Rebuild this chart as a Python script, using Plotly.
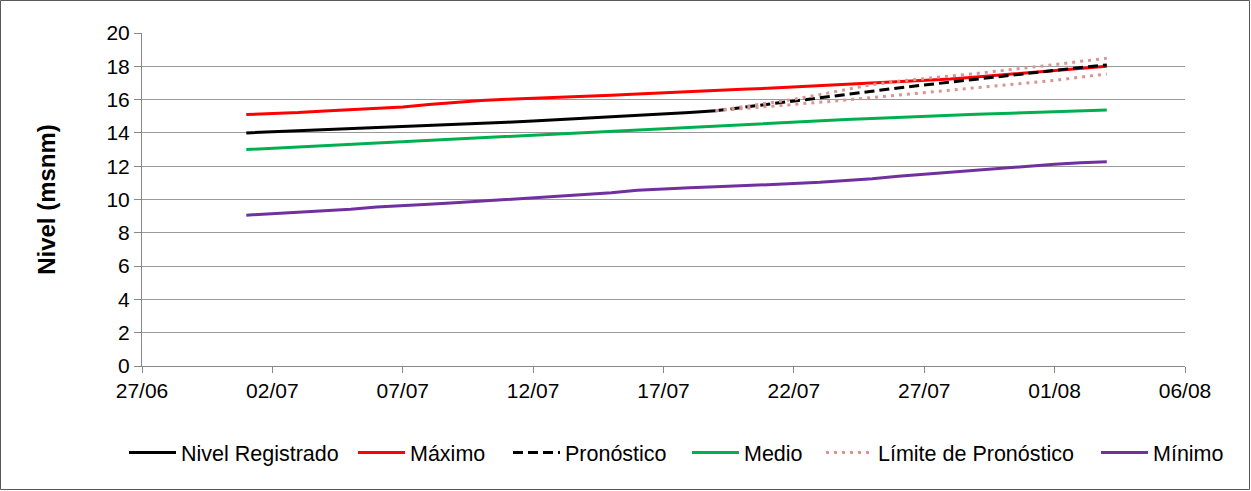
import pandas as pd
import plotly.graph_objects as go

# ---- data ----
fechas = [d.strftime("%Y-%m-%d") for d in pd.date_range("2013-07-01", "2013-08-03", freq="D")]
fechas_registro = fechas[:19]      # 01/07 .. 19/07
fechas_pronostico = fechas[18:]    # 19/07 .. 03/08

nivel_registrado = [14.00, 14.06, 14.12, 14.18, 14.24, 14.30, 14.36, 14.42, 14.49, 14.56,
                    14.64, 14.72, 14.80, 14.88, 14.96, 15.05, 15.13, 15.22, 15.33]

maximo = [15.10, 15.15, 15.22, 15.32, 15.40, 15.46, 15.56, 15.70, 15.84, 15.94,
          16.02, 16.07, 16.13, 16.20, 16.26, 16.34, 16.42, 16.48, 16.55, 16.62,
          16.68, 16.76, 16.84, 16.90, 16.96, 17.04, 17.14, 17.24, 17.36, 17.48,
          17.60, 17.72, 17.86, 18.00]

pronostico = [15.33, 15.52, 15.70, 15.90, 16.10, 16.30, 16.50, 16.70, 16.88, 17.05,
              17.22, 17.40, 17.58, 17.76, 17.93, 18.08]

medio = [13.00, 13.08, 13.16, 13.24, 13.32, 13.40, 13.48, 13.56, 13.64, 13.72,
         13.80, 13.88, 13.96, 14.04, 14.12, 14.20, 14.28, 14.36, 14.44, 14.52,
         14.59, 14.66, 14.73, 14.80, 14.87, 14.94, 15.00, 15.06, 15.12, 15.17,
         15.22, 15.27, 15.32, 15.37]

limite_superior = [15.33, 15.55, 15.78, 16.02, 16.30, 16.62, 16.90, 17.10, 17.28, 17.42,
                   17.57, 17.74, 17.92, 18.10, 18.30, 18.48]
limite_inferior = [15.33, 15.45, 15.58, 15.70, 15.83, 15.97, 16.12, 16.28, 16.42, 16.58,
                   16.72, 16.86, 17.00, 17.15, 17.35, 17.54]

minimo = [9.06, 9.15, 9.24, 9.32, 9.42, 9.55, 9.65, 9.72, 9.80, 9.90,
          9.98, 10.08, 10.18, 10.28, 10.40, 10.55, 10.64, 10.70, 10.76, 10.84,
          10.90, 10.96, 11.03, 11.12, 11.25, 11.40, 11.52, 11.66, 11.78, 11.90,
          12.02, 12.12, 12.20, 12.26]

y_ticks = [0, 2, 4, 6, 8, 10, 12, 14, 16, 18, 20]

# ---- figure ----
W, H = 1251, 491
ML, MR, MT, MB = 142, 66, 33, 125
FONT = "Liberation Sans, Arial, sans-serif"
pw = W - ML - MR
ph = H - MT - MB

fig = go.Figure()
lw = 3
fig.add_trace(go.Scatter(x=fechas_registro, y=nivel_registrado, mode="lines",
                         name="Nivel Registrado", legend="legend",
                         line=dict(color="black", width=lw)))
fig.add_trace(go.Scatter(x=fechas, y=maximo, mode="lines", name="Máximo", legend="legend2",
                         line=dict(color="#FF0000", width=lw)))
fig.add_trace(go.Scatter(x=fechas_pronostico, y=pronostico, mode="lines", name="Pronóstico",
                         legend="legend3",
                         line=dict(color="black", width=lw, dash="10px,5px")))
fig.add_trace(go.Scatter(x=fechas, y=medio, mode="lines", name="Medio", legend="legend4",
                         line=dict(color="#00B050", width=lw)))
fig.add_trace(go.Scatter(x=fechas_pronostico + [None] + fechas_pronostico,
                         y=limite_superior + [None] + limite_inferior,
                         mode="lines", name="Límite de Pronóstico", connectgaps=False,
                         legend="legend5",
                         line=dict(color="#D99594", width=lw, dash="3px,5px")))
fig.add_trace(go.Scatter(x=fechas, y=minimo, mode="lines", name="Mínimo", legend="legend6",
                         line=dict(color="#7030A0", width=lw)))

# legend symbol start positions (px) in the figure
legend_px = [129, 358, 513, 692, 826, 1101]
legend_keys = ["legend", "legend2", "legend3", "legend4", "legend5", "legend6"]
legend_layout = {}
for key, px in zip(legend_keys, legend_px):
    legend_layout[key] = dict(orientation="h", x=(px - 5 - ML) / pw, xanchor="left",
                              y=-0.26, yanchor="middle", bgcolor="rgba(0,0,0,0)",
                              font=dict(size=21.5, family=FONT, color="black"),
                              itemwidth=47)

fig.update_layout(
    width=W, height=H,
    margin=dict(l=ML, r=MR, t=MT, b=MB),
    paper_bgcolor="white", plot_bgcolor="white",
    font=dict(family=FONT, size=21, color="black"),
    showlegend=True,
    xaxis=dict(type="date", range=["2013-06-27", "2013-08-06"],
               tick0="2013-06-27", dtick=5 * 86400000, tickformat="%d/%m",
               showgrid=False, showline=True, linecolor="#888888", linewidth=1,
               ticks="outside", ticklen=6, tickcolor="#888888",
               tickfont=dict(size=21), zeroline=False),
    yaxis=dict(range=[0, 20], tickvals=y_ticks, showgrid=True, gridcolor="#999999",
               gridwidth=1, showline=True, linecolor="#888888", linewidth=1,
               ticks="outside", ticklen=7, tickcolor="#888888",
               tickfont=dict(size=21), zeroline=False,
               title=dict(text="<b>Nivel (msnm)</b>", font=dict(size=24), standoff=44)),
    shapes=[dict(type="rect", xref="paper", yref="paper",
                 x0=-ML / pw + 0.5 / pw, x1=1 + MR / pw - 1.5 / pw,
                 y0=-MB / ph + 1.5 / ph, y1=1 + MT / ph - 0.5 / ph,
                 line=dict(color="#595959", width=1), fillcolor="rgba(0,0,0,0)", layer="below")],
    **legend_layout,
)

fig.write_html("out.html", config={"displayModeBar": False},
               post_script="document.body.style.margin='0';document.body.style.padding='0';")
